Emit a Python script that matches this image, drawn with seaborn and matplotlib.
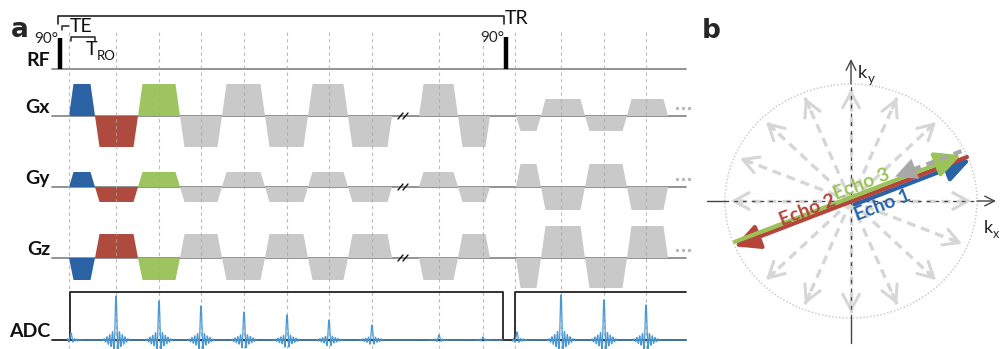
import numpy as np
import pandas as pd
import matplotlib
matplotlib.use("Agg")
import matplotlib.pyplot as plt
import seaborn as sns
from matplotlib.patches import Ellipse

sns.set_theme(style="white")
plt.rcParams['font.family'] = ['Lato', 'DejaVu Sans']

# ---------------- data: panel a (time axis expressed in figure pixels) ----------------
channels = ["RF", "Gx", "Gy", "Gz", "ADC"]
channel_base = [69, 116, 187, 258, 340]

rf_times = [60, 506]
rf_heights = [31, 32]
rf_labels = ["90°", "90°"]

echo_marks = [69, 116, 159, 201, 244, 287, 329, 372, 439, 483, 515, 561, 604, 646]

lobe_start = [69, 95, 138, 180, 222, 265, 308, 348, 419, 458, 516, 541, 585, 627]
lobe_end = [95, 138, 180, 222, 265, 308, 348, 392, 458, 490, 541, 585, 627, 668]
lobe_kind = ["Echo 1", "Echo 2", "Echo 3"] + ["other"] * 11
gx_amp = [32, -31, 32, -31, 32, -31, 32, -31, 32, -31, -15, 17, -15, 17]
gy_amp = [15, -15, 15, -15, 15, -15, 15, -15, 15, -15, 23, -23, 23, -23]
gz_amp = [-22, 24, -22, 24, -22, 24, -22, 24, -22, 24, -30, 32, -30, 32]

adc_win_start = [70, 515]
adc_win_end = [503, 686]
adc_echo_t = [116, 159, 201, 244, 287, 329, 372, 439, 483, 561, 604, 646]
adc_echo_amp = [44, 39, 34, 28, 25, 20, 15, 5, 3, 45, 40, 35]
adc_fid_t = [71, 517]
adc_fid_amp = [7, 8]

break_t = 403

# ---------------- data: panel b ----------------
spoke_angles = [0, 22.5, 45, 67.5, 90, 112.5, 135, 157.5,
                180, 202.5, 225, 247.5, 270, 292.5, 315, 337.5]
echo_angle = 21
echo_names = ["Echo 1", "Echo 2", "Echo 3"]

palette = {"Echo 1": "#2a62a3", "Echo 2": "#ae4a3e", "Echo 3": "#9dc45f", "other": "#c9c9c9"}
arrow_pal = {"Echo 1": "#2a62a8", "Echo 2": "#b5443a", "Echo 3": "#9cc35a", "rewind": "#a8a8a8"}

# ---------------- figure ----------------
fig = plt.figure(figsize=(10, 3.49), dpi=100)
ax = fig.add_axes([0, 0, 1, 1])

X0, X1 = 52, 686
base = dict(zip(channels, channel_base))

# baselines
for ch in ["RF", "Gx", "Gy", "Gz"]:
    ax.plot([X0, X1], [base[ch], base[ch]], color="#8a8a8a", lw=1.3, zorder=1)
ax.plot([X0, X1], [base["ADC"], base["ADC"]], color="#222222", lw=1.3, zorder=4)

# gradient lobes
ramp = 4.5
for ch, amps in [("Gx", gx_amp), ("Gy", gy_amp), ("Gz", gz_amp)]:
    b = base[ch]
    for s, e, a, k in zip(lobe_start, lobe_end, amps, lobe_kind):
        ax.fill([s, s + ramp, e - ramp, e], [b, b - a, b - a, b],
                color=palette[k], lw=0, zorder=2)
    # break marks
    for dx in (-2.5, 2.5):
        xb = break_t + dx
        ax.plot([xb - 2.5, xb + 2.5], [b + 3, b - 3], color="#111111", lw=1.0, zorder=5)
    # continuation dots
    dots = pd.DataFrame({"x": [677, 683, 689], "y": [b - 8] * 3})
    sns.scatterplot(data=dots, x="x", y="y", color="#b8b8b8", s=6, linewidth=0, ax=ax, zorder=5)

# RF pulses
for t, h, lab in zip(rf_times, rf_heights, rf_labels):
    ax.plot([t, t], [base["RF"], base["RF"] - h], color="black", lw=3.2,
            solid_capstyle="butt", zorder=3)
    ax.text(t - 1.5, base["RF"] - h + 5, lab, fontsize=11, ha="right", va="baseline",
            color="#222222")

# echo markers (dashed verticals)
for t in echo_marks:
    ax.plot([t, t], [32, 348], color="#a8a8a8", lw=0.8, dashes=(3, 3), alpha=0.8, zorder=3)

# ADC windows
for s, e in zip(adc_win_start, adc_win_end):
    top = 292
    if e < X1:
        ax.plot([s, s, e, e], [base["ADC"], top, top, base["ADC"]], color="#222222", lw=1.3, zorder=4)
    else:
        ax.plot([s, s, e], [base["ADC"], top, top], color="#222222", lw=1.3, zorder=4)

# ADC signal: sinc-shaped echoes at each echo time
def kernel(u):
    return np.sinc(u) * (1 + 0.2 * np.abs(u)) * np.exp(-(u / 8.0) ** 4)

rows = []
for seg, (s, e) in enumerate(zip(adc_win_start, adc_win_end)):
    t = np.arange(s - 3, e + 0.01, 0.2)
    sig = np.zeros_like(t)
    for tc, a in zip(adc_echo_t, adc_echo_amp):
        if s <= tc <= e:
            sig += a * kernel((t - tc) / 1.4)
    for tc, a in zip(adc_fid_t, adc_fid_amp):
        if s <= tc <= e:
            sig += a * kernel((t - tc) / 1.4)
    rows.append(pd.DataFrame({"t": t, "y": base["ADC"] - sig, "seg": seg}))
adc = pd.concat(rows, ignore_index=True)
sns.lineplot(data=adc, x="t", y="y", units="seg", estimator=None, sort=False,
             color="#4a98d3", lw=0.9, ax=ax, legend=False, zorder=5)

# row labels
for ch in channels:
    ax.text(50, base[ch] - 3, ch, fontsize=14, fontweight="bold", ha="right",
            va="baseline", color="#111111")

# TR bracket
ax.plot([58, 58, 504, 504], [24, 16, 16, 24], color="#222222", lw=1.2)
ax.text(505, 24, "TR", fontsize=14, ha="left", va="baseline", color="#111111")
# TE bracket
ax.plot([62, 62, 69], [30, 26, 26], color="#222222", lw=1.1)
ax.text(70, 32, "TE", fontsize=14, ha="left", va="baseline", color="#111111")
# T_RO bracket
ax.plot([71, 71, 95, 95], [41, 37, 37, 41], color="#222222", lw=1.1)
ax.text(86, 55, "T", fontsize=14, ha="left", va="baseline", color="#111111")
ax.text(97, 60, "RO", fontsize=9.5, ha="left", va="baseline", color="#111111")

# panel letters
ax.text(11, 37, "a", fontsize=19, fontweight="heavy", family="DejaVu Sans", va="baseline")
ax.text(702, 38, "b", fontsize=19, fontweight="heavy", family="DejaVu Sans", va="baseline")

# ---------------- panel b ----------------
cx, cy = 851, 201
rx, ry = 126, 117
ax.add_patch(Ellipse((cx, cy), 2 * rx, 2 * ry, fill=False, ec="#c4c4c4", lw=1.0,
                     ls=(0, (1, 1.5)), zorder=1))

for ang in spoke_angles:
    th = np.deg2rad(ang)
    tx, ty = cx + 0.955 * rx * np.cos(th), cy - 0.955 * ry * np.sin(th)
    ax.plot([cx, tx], [cy, ty], color="#d6d6d6", lw=2.4, dashes=(2.7, 1.8),
            solid_capstyle="butt", zorder=1)
    bx, by = cx + 0.86 * rx * np.cos(th), cy - 0.86 * ry * np.sin(th)
    ax.annotate("", xy=(tx, ty), xytext=(bx, by),
                arrowprops=dict(arrowstyle="->,head_length=0.55,head_width=0.3",
                                color="#d6d6d6", lw=2.2, mutation_scale=20,
                                shrinkA=0, shrinkB=0), zorder=1)

# k-space axes: solid outside, dashed inside the circle
axc = "#444444"
ax.plot([707, cx - rx], [cy, cy], color=axc, lw=1.0, zorder=2)
ax.plot([cx - rx, cx + rx], [cy, cy], color=axc, lw=0.9, dashes=(3, 4), zorder=2)
ax.annotate("", xy=(996, cy), xytext=(cx + rx, cy),
            arrowprops=dict(arrowstyle="->,head_length=0.5,head_width=0.25", color=axc,
                            lw=1.0, mutation_scale=14, shrinkA=0, shrinkB=0), zorder=2)
ax.plot([cx, cx], [343, cy + ry], color=axc, lw=1.0, zorder=2)
ax.plot([cx, cx], [cy + ry, cy - ry], color=axc, lw=0.9, dashes=(3, 4), zorder=2)
ax.annotate("", xy=(cx, 59), xytext=(cx, cy - ry),
            arrowprops=dict(arrowstyle="->,head_length=0.5,head_width=0.25", color=axc,
                            lw=1.0, mutation_scale=14, shrinkA=0, shrinkB=0), zorder=2)
ax.text(858, 78, "k", fontsize=13, va="baseline", color="#222222")
ax.text(867.5, 83, "y", fontsize=9.5, va="baseline", color="#222222")
ax.text(984, 233, "k", fontsize=13, va="baseline", color="#222222")
ax.text(993, 238, "x", fontsize=9, va="baseline", color="#222222")

# echo trajectories
th = np.deg2rad(echo_angle)
d = np.array([np.cos(th), -np.sin(th)])
n = np.array([np.sin(th), np.cos(th)])
c = np.array([cx, cy])
HEAD = "-|>,head_length=0.9,head_width=0.45"

def traj(r0, r1, off, color, z, dashed=False):
    p0 = c + r0 * d + off * n
    p1 = c + r1 * d + off * n
    if dashed:
        pm = c + (r1 + 10) * d + off * n
        ax.plot([p0[0], pm[0]], [p0[1], pm[1]], color=color, lw=3.0, dashes=(2.0, 1.5),
                solid_capstyle="butt", zorder=z)
        ax.annotate("", xy=p1, xytext=pm,
                    arrowprops=dict(arrowstyle=HEAD, color=color, lw=0.1,
                                    mutation_scale=17, shrinkA=0, shrinkB=0), zorder=z)
    else:
        ax.annotate("", xy=p1, xytext=p0,
                    arrowprops=dict(arrowstyle=HEAD, color=color, lw=3.0,
                                    mutation_scale=17, shrinkA=0, shrinkB=0), zorder=z)

traj(2, 126, 4.5, arrow_pal["Echo 1"], 6)
traj(124, -125, 0.5, arrow_pal["Echo 2"], 7)
traj(-123, 119, -3.5, arrow_pal["Echo 3"], 8)
traj(121, 50, -7.0, arrow_pal["rewind"], 9, dashed=True)

ax.text(883, 205, "Echo 1", fontsize=14, fontweight="bold", color=arrow_pal["Echo 1"],
        rotation=echo_angle, ha="center", va="center", rotation_mode="anchor", zorder=10)
ax.text(808, 210, "Echo 2", fontsize=14, fontweight="bold", color=arrow_pal["Echo 2"],
        rotation=echo_angle, ha="center", va="center", rotation_mode="anchor", zorder=10)
ax.text(862, 184, "Echo 3", fontsize=14, fontweight="bold", color=arrow_pal["Echo 3"],
        rotation=echo_angle, ha="center", va="center", rotation_mode="anchor", zorder=10)

ax.set_xlim(0, 1000)
ax.set_ylim(349, 0)
ax.set_axis_off()
fig.savefig("out.png", dpi=100)
